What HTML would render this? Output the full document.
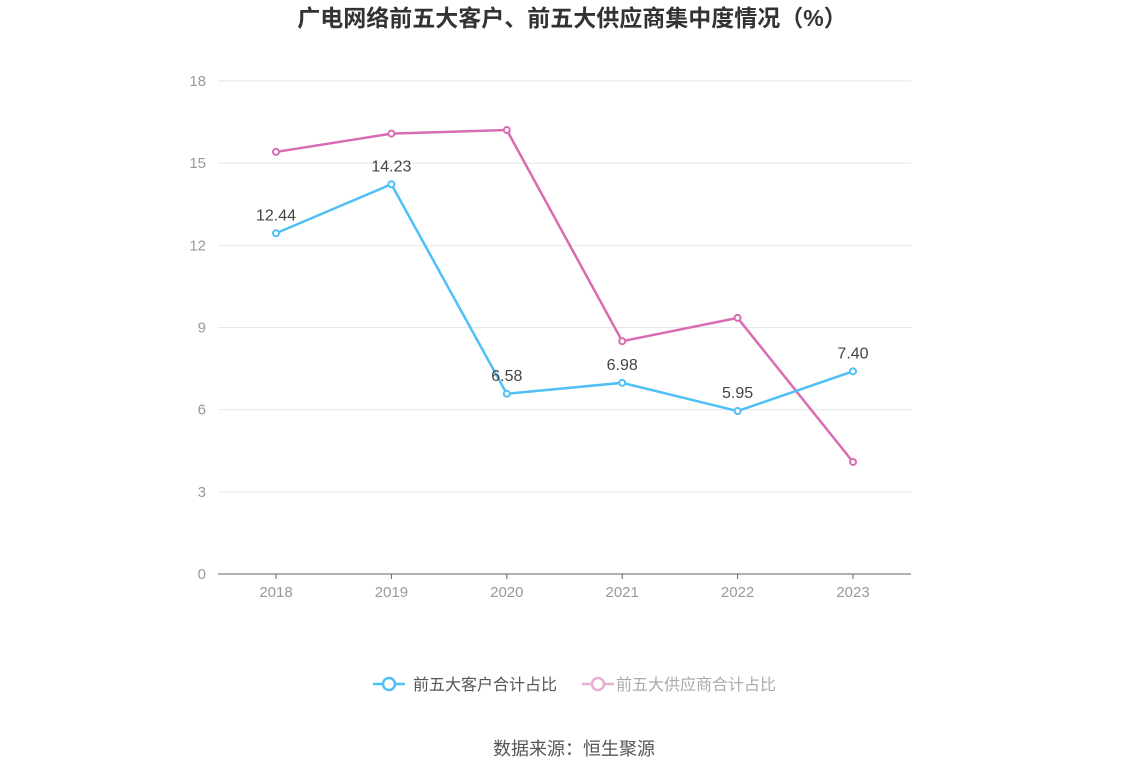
<!DOCTYPE html>
<html><head><meta charset="utf-8"><style>
body{margin:0;background:#fff;font-family:"Liberation Sans","Noto Sans CJK SC",sans-serif}
</style></head><body>
<svg id="c" width="1148" height="776" xmlns="http://www.w3.org/2000/svg" style="display:block">
<text x="572" y="26" text-anchor="middle" font-size="23" font-weight="bold" fill="#333" font-family="Liberation Sans,Noto Sans CJK SC,sans-serif">广电网络前五大客户、前五大供应商集中度情况（%）</text>
<g id="grid"></g><g id="lines"></g>
<g>
<g>
<line x1="373" y1="684" x2="405" y2="684" stroke="#4fc0f7" stroke-width="2.5"/><circle cx="389" cy="684" r="6" fill="#fff" stroke="#4fc0f7" stroke-width="2.5"/>
<text x="413" y="690" font-size="16" fill="#555">前五大客户合计占比</text></g>
<g>
<line x1="582" y1="684" x2="614" y2="684" stroke="#e8aed3" stroke-width="2.5"/><circle cx="598" cy="684" r="6" fill="#fff" stroke="#e8aed3" stroke-width="2.5"/>
<text x="616" y="690" font-size="16" fill="#aaa">前五大供应商合计占比</text></g>
</g>
<text x="574" y="755" text-anchor="middle" font-size="18" fill="#555">数据来源：恒生聚源</text>
</svg>
<script>
const categories=["2018","2019","2020","2021","2022","2023"];
const customers=[12.44,14.23,6.58,6.98,5.95,7.40];
const suppliers=[15.41,16.08,16.21,8.50,9.35,4.09];
const yTicks=[0,3,6,9,12,15,18];
const NS="http://www.w3.org/2000/svg";
const x=i=>276+i*115.4, y=v=>574-v*(493/18);
function mk(t,a,p){const e=document.createElementNS(NS,t);for(const k in a)e.setAttribute(k,a[k]);p.appendChild(e);return e;}
const g=document.getElementById('grid'), L=document.getElementById('lines');
yTicks.forEach(v=>{
 const l=mk('line',{x1:218,x2:911,y1:y(v),y2:y(v),stroke:v?'#e6e6ee':'#666','stroke-width':1},g);
 
 
 const t=mk('text',{x:206,y:y(v)+5,'text-anchor':'end','font-size':15,fill:'#999'},g);t.textContent=v;
 
 
});
categories.forEach((c,i)=>{
 mk('line',{x1:x(i),x2:x(i),y1:574,y2:579,stroke:'#666'},g);
 const t=mk('text',{x:x(i),y:597,'text-anchor':'middle','font-size':15,fill:'#999'},g);t.textContent=c;
 
 
});
function series(d,col,name,labels){
 const p=mk('polyline',{points:d.map((v,i)=>x(i)+','+y(v)).join(' '),fill:'none',stroke:col,'stroke-width':2.5},L);
 
 
 d.forEach((v,i)=>{
  const c=mk('circle',{cx:x(i),cy:y(v),r:3,fill:'#fff',stroke:col,'stroke-width':2},L);
  
  
  if(labels){const t=mk('text',{x:x(i),y:y(v)-13,'text-anchor':'middle','font-size':16,fill:'#444'},L);t.textContent=v.toFixed(2);
  
  }
 });
}
series(suppliers,'#d96bb3','suppliers',false);
series(customers,'#4fc0f7','customers',true);
</script>
</body></html>
